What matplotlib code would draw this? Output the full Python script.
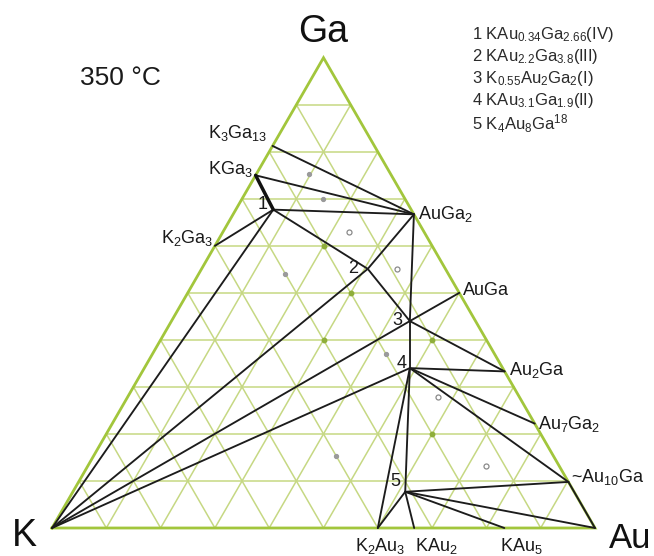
import numpy as np
import matplotlib
matplotlib.use("Agg")
import matplotlib.pyplot as plt

plt.rcParams['font.family'] = ['Liberation Sans', 'DejaVu Sans']
plt.rcParams['mathtext.fontset'] = 'custom'
plt.rcParams['mathtext.rm'] = 'Liberation Sans'
plt.rcParams['mathtext.it'] = 'Liberation Sans:italic'
plt.rcParams['mathtext.bf'] = 'Liberation Sans:bold'
plt.rcParams['mathtext.default'] = 'regular'

# ---- data: compositions as (Au fraction, Ga fraction); K = 1 - Au - Ga ----
phase_names = ['K', 'Au', 'K3Ga13', 'KGa3', 'K2Ga3', 'AuGa2', 'AuGa', 'Au2Ga',
               'Au7Ga2', 'Au10Ga', 'K2Au3', 'KAu2', 'KAu5',
               'P1', 'P2', 'P3', 'P4', 'P5']
phase_au = [0.0, 1.0, 0.0, 0.0, 0.0, 0.333, 0.5, 0.667,
            0.778, 0.902, 0.6, 0.667, 0.833,
            0.069, 0.306, 0.439, 0.489, 0.612]
phase_ga = [0.0, 0.0, 0.8125, 0.75, 0.6, 0.667, 0.5, 0.333,
            0.222, 0.098, 0.0, 0.0, 0.0,
            0.677, 0.551, 0.440, 0.340, 0.077]

tie_lines = [('K3Ga13', 'AuGa2'), ('KGa3', 'AuGa2'), ('P1', 'AuGa2'),
             ('K2Ga3', 'P1'), ('K', 'P1'), ('P1', 'P2'), ('P2', 'P3'),
             ('P2', 'AuGa2'), ('K', 'P2'), ('AuGa2', 'P3'), ('K', 'P3'),
             ('P3', 'AuGa'), ('P3', 'Au2Ga'), ('P3', 'P4'), ('P4', 'Au2Ga'),
             ('P4', 'Au7Ga2'), ('P4', 'Au10Ga'), ('K', 'P4'), ('P4', 'P5'),
             ('P4', 'K2Au3'), ('P5', 'K2Au3'), ('P5', 'KAu2'), ('P5', 'KAu5'),
             ('P5', 'Au'), ('P5', 'Au10Ga'), ('Au10Ga', 'Au')]
thick_lines = [('KGa3', 'P1')]

# sample points (grey) : filled and open
sample_au = [0.097, 0.149, 0.159, 0.430, 0.446]
sample_ga = [0.753, 0.700, 0.540, 0.370, 0.153]
open_au = [0.232, 0.360, 0.571, 0.733]
open_ga = [0.630, 0.551, 0.279, 0.132]
# marked grid nodes (green)
node_au = [0.2, 0.3, 0.3, 0.5, 0.6]
node_ga = [0.6, 0.4, 0.5, 0.4, 0.2]

phase_labels = {
    'K3Ga13': r'$K_{3}Ga_{13}$', 'KGa3': r'$KGa_{3}$', 'K2Ga3': r'$K_{2}Ga_{3}$',
    'AuGa2': r'$AuGa_{2}$', 'AuGa': 'AuGa', 'Au2Ga': r'$Au_{2}Ga$',
    'Au7Ga2': r'$Au_{7}Ga_{2}$', 'Au10Ga': r'~$Au_{10}Ga$',
    'K2Au3': r'$K_{2}Au_{3}$', 'KAu2': r'$KAu_{2}$', 'KAu5': r'$KAu_{5}$',
    'P1': '1', 'P2': '2', 'P3': '3', 'P4': '4', 'P5': '5',
}
legend_lines = [r'1 $KAu_{0.34}Ga_{2.66}$(IV)', r'2 $KAu_{2.2}Ga_{3.8}$(III)',
                r'3 $K_{0.55}Au_{2}Ga_{2}$(I)', r'4 $KAu_{3.1}Ga_{1.9}$(II)',
                r'5 $K_{4}Au_{8}Ga^{18}$']

# ---- helpers ----
S3 = np.sqrt(3) / 2


def cart(au, ga):
    au = np.asarray(au, float)
    ga = np.asarray(ga, float)
    return au + ga / 2, ga * S3


pos = {n: cart(a, g) for n, a, g in zip(phase_names, phase_au, phase_ga)}

fig = plt.figure(figsize=(6.54, 5.56), dpi=100)
ax = fig.add_axes([0, 0, 1, 1])
ax.set_xlim(-52 / 543, 602 / 543)
ax.set_ylim(-28 / 543, 528 / 543)
ax.axis('off')

grid_c = '#c6d883'
edge_c = '#a2c63c'
for k in range(1, 10):
    f = k / 10
    # constant Ga
    x, y = cart([0, 1 - f], [f, f])
    ax.plot(x, y, color=grid_c, lw=1.1, zorder=1)
    # constant Au
    x, y = cart([f, f], [0, 1 - f])
    ax.plot(x, y, color=grid_c, lw=1.1, zorder=1)
    # constant K
    x, y = cart([1 - f, 0], [0, 1 - f])
    ax.plot(x, y, color=grid_c, lw=1.1, zorder=1)

tx, ty = cart([0, 1, 0, 0], [0, 0, 1, 0])
ax.plot(tx, ty, color=edge_c, lw=2.0, zorder=2, solid_joinstyle='miter')

nx, ny = cart(node_au, node_ga)
ax.plot(nx, ny, 'o', ms=3.2, color='#8fae3a', zorder=3)

for a, b in tie_lines:
    ax.plot([pos[a][0], pos[b][0]], [pos[a][1], pos[b][1]],
            color='#1c1c1c', lw=1.35, zorder=4, solid_capstyle='round')
for a, b in thick_lines:
    ax.plot([pos[a][0], pos[b][0]], [pos[a][1], pos[b][1]],
            color='#111111', lw=2.5, zorder=4, solid_capstyle='round')

sx, sy = cart(sample_au, sample_ga)
ax.plot(sx, sy, 'o', ms=2.8, color='#9a9a9a', zorder=3)
ox, oy = cart(open_au, open_ga)
ax.plot(ox, oy, 'o', ms=3.6, mfc='white', mec='#8a8a8a', mew=0.9, zorder=3)

# label offsets in pixels (dx, dy, ha)
label_style = {
    'K3Ga13': (-5, 13, 'right'), 'KGa3': (-3, 6, 'right'),
    'K2Ga3': (-2, 8, 'right'), 'AuGa2': (4, 0, 'left'),
    'AuGa': (4, 2, 'left'), 'Au2Ga': (4, 1, 'left'),
    'Au7Ga2': (3, 0, 'left'), 'Au10Ga': (3, 5, 'left'),
    'K2Au3': (2, -18, 'center'), 'KAu2': (22, -18, 'center'),
    'KAu5': (17, -18, 'center'),
    'P1': (-11, 5, 'center'), 'P2': (-15, 0, 'center'),
    'P3': (-12, 1, 'center'), 'P4': (-8, 5, 'center'), 'P5': (-10, 10, 'center'),
}
for name, txt in phase_labels.items():
    dx, dy, ha = label_style[name]
    ax.annotate(txt, xy=pos[name], xytext=(dx, dy), textcoords='offset pixels',
                ha=ha, va='center', fontsize=13, color='#1a1a1a', zorder=5)

# corner labels
ax.annotate('K', xy=pos['K'], xytext=(-28, -8), textcoords='offset pixels',
            ha='center', va='center', fontsize=27, color='#111111')
ax.annotate('Au', xy=pos['Au'], xytext=(35, -10), textcoords='offset pixels',
            ha='center', va='center', fontsize=25, color='#111111')
gx, gy = cart(0, 1)
ax.annotate('Ga', xy=(gx, gy), xytext=(0, 26), textcoords='offset pixels',
            ha='center', va='center', fontsize=27, color='#111111')

fig.text(120 / 654, 1 - 78 / 556, '350 °C', ha='center', va='center',
         fontsize=19, color='#1a1a1a')

for i, t in enumerate(legend_lines):
    fig.text(472 / 654, 1 - (34 + i * 22.3) / 556, t, ha='left', va='center',
             fontsize=12, color='#2a2a2a')

fig.savefig('out.png', dpi=100)
